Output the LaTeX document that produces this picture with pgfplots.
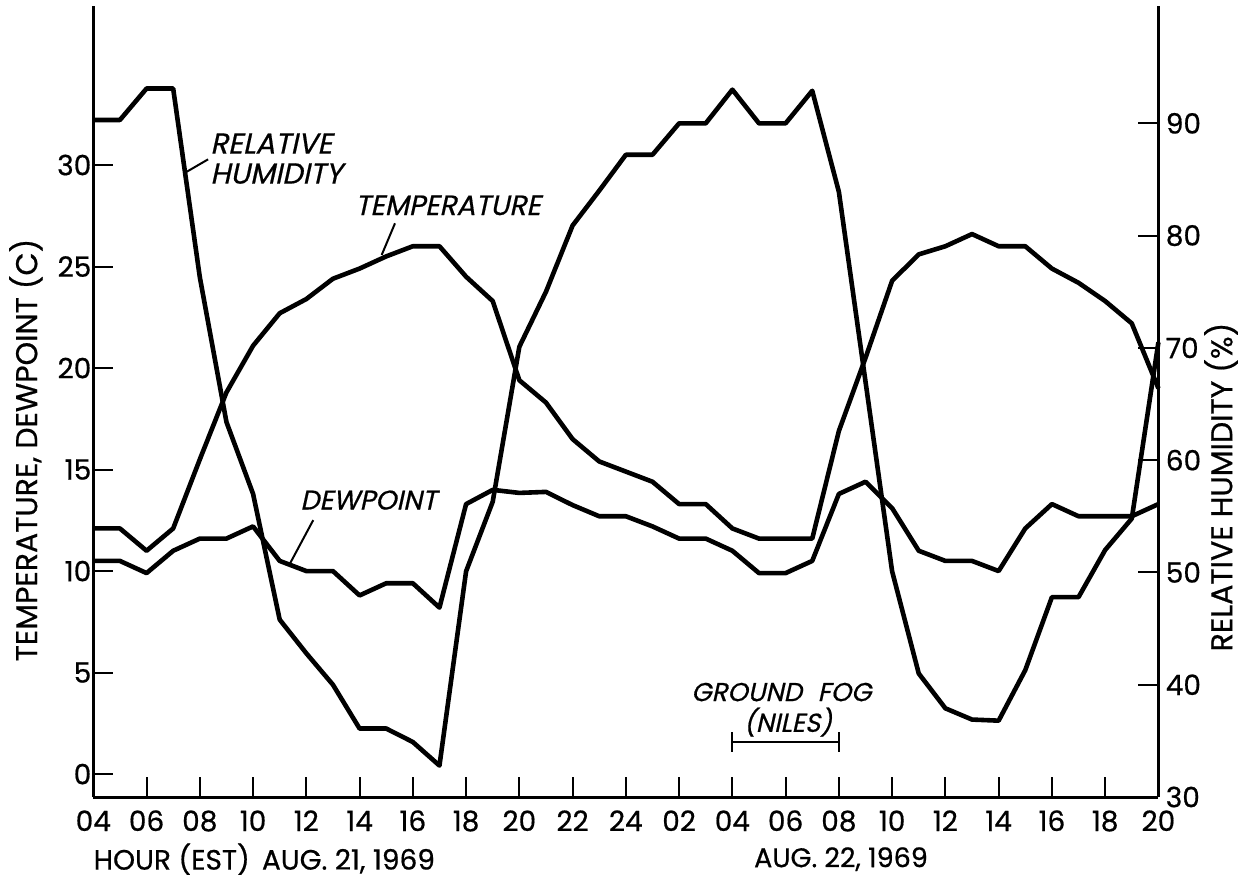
\documentclass[border=0pt]{standalone}
\usepackage{fontspec}
\setmainfont{Poppins}[FakeBold=0.6]
\newfontfamily\slfont{Poppins}[FakeSlant=0.22, FakeBold=0.6]
\usepackage{pgfplots}
\usepackage{pgfplotstable}
\pgfplotsset{compat=1.18}

\pgfplotstableread{
h T D RH
0 12.1 10.5 90.3
1 12.1 10.5 90.3
2 11.0 9.9 93.1
3 12.1 11.0 93.1
4 15.5 11.6 76.3
5 18.8 11.6 63.4
6 21.1 12.2 57.0
7 22.7 10.5 45.8
8 23.4 10.0 42.8
9 24.4 10.0 40.0
10 24.9 8.8 36.1
11 25.5 9.4 36.1
12 26.0 9.4 34.9
13 26.0 8.2 32.8
14 24.5 13.3 50.1
15 23.3 14.0 56.3
16 19.4 13.85 70.1
17 18.3 13.9 75.0
18 16.5 13.25 80.9
19 15.4 12.7 84.0
20 14.9 12.7 87.2
21 14.4 12.2 87.2
22 13.3 11.6 90.0
23 13.3 11.6 90.0
24 12.1 11.0 93.0
25 11.6 9.9 90.0
26 11.6 9.9 90.0
27 11.6 10.5 92.9
28 16.9 13.8 83.9
29 20.5 14.4 67.0
30 24.3 13.1 50.1
31 25.6 11.0 41.0
32 26.0 10.5 37.9
33 26.6 10.5 36.9
34 26.0 10.0 36.8
35 26.0 12.1 41.3
36 24.9 13.3 47.8
37 24.2 12.7 47.8
38 23.3 12.7 52.0
39 22.2 12.7 54.8
40 19.0 13.3 70.5
}\data

\begin{document}
\begin{tikzpicture}
\begin{axis}[
  scale only axis, width=532.6pt, height=395.5pt,
  xmin=0, xmax=40, ymin=-1.13, ymax=37.83,
  axis x line*=bottom, axis y line*=left,
  axis line style={-, line width=1.5pt},
  tick align=inside, major tick length=10pt,
  tick style={line width=1pt, black},
  xtick={0,2,...,40},
  xticklabels={04,06,08,10,12,14,16,18,20,22,24,02,04,06,08,10,12,14,16,18,20},
  ytick={0,5,...,30},
  /pgf/number format/assume math mode=true,
  ticklabel style={font=\fontsize{14}{16}\selectfont},
  xticklabel style={anchor=base, yshift=-17pt, inner sep=0pt},
  yticklabel style={anchor=east, xshift=-0.8pt, inner sep=0pt},
  clip=false,
]
\addplot[line width=2.3pt, line join=round, black] table[x=h, y=T]{\data};
\addplot[line width=2.3pt, line join=round, black] table[x=h, y=D]{\data};

\node[anchor=north west, align=left, inner sep=0pt, font=\slfont\fontsize{14.5}{15}\selectfont] at (axis cs:4.38,31.58) {RELATIVE\\HUMIDITY};
\draw[line width=1pt] (axis cs:4.31,30.28) -- (axis cs:3.51,29.67);
\node[anchor=north west, inner sep=0pt, font=\slfont\fontsize{14}{15}\selectfont] at (axis cs:9.82,28.52) {TEMPERATURE};
\draw[line width=1pt] (axis cs:11.33,27.13) -- (axis cs:10.83,25.57);
\node[anchor=north west, inner sep=0pt, font=\slfont\fontsize{13.5}{15}\selectfont] at (axis cs:7.76,13.99) {DEWPOINT};
\draw[line width=1pt] (axis cs:8.26,12.51) -- (axis cs:7.39,10.38);

\node[inner sep=0pt, font=\slfont\fontsize{13}{15}\selectfont] at (axis cs:25.84,4.04) {GROUND\hspace{0.6em}FOG};
\node[inner sep=0pt, font=\slfont\fontsize{13}{15}\selectfont] at (axis cs:26.09,2.56) {(NILES)};
\draw[line width=1pt] (axis cs:24,1.59) -- (axis cs:28,1.59);
\draw[line width=1pt] (axis cs:24,1.10) -- (axis cs:24,2.08);
\draw[line width=1pt] (axis cs:28,1.10) -- (axis cs:28,2.08);

\node[anchor=west, inner sep=0pt, font=\fontsize{14}{16}\selectfont] at (axis cs:0,-4.19) {HOUR (EST)\, AUG. 21, 1969};
\node[inner sep=0pt, font=\fontsize{13.5}{16}\selectfont] at (axis cs:28.08,-4.19) {AUG. 22, 1969};
\node[rotate=90, inner sep=0pt, font=\fontsize{15}{16}\selectfont] at (axis cs:-2.53,15.96) {TEMPERATURE, DEWPOINT (C)};
\node[rotate=90, inner sep=0pt, font=\fontsize{15}{16}\selectfont] at (axis cs:42.35,14.14) {RELATIVE HUMIDITY (\%)};

\coordinate (BL) at (axis cs:-3.504,-5.07);
\coordinate (TR) at (axis cs:43.14,38.13);
\end{axis}

\begin{axis}[
  scale only axis, width=532.6pt, height=395.5pt,
  xmin=0, xmax=40, ymin=30, ymax=100.44,
  axis x line=none, axis y line*=right,
  axis line style={-, line width=1.5pt},
  tick align=inside, major tick length=10pt,
  tick style={line width=1pt, black},
  ytick={30,40,...,90},
  /pgf/number format/assume math mode=true,
  ticklabel style={font=\fontsize{14}{16}\selectfont},
  yticklabel style={anchor=west, xshift=3.5pt, inner sep=0pt},
  clip=false,
]
\addplot[line width=2.3pt, line join=round, black] table[x=h, y=RH]{\data};
\end{axis}
\pgfresetboundingbox
\path[use as bounding box] (BL) rectangle (TR);
\end{tikzpicture}
\end{document}
